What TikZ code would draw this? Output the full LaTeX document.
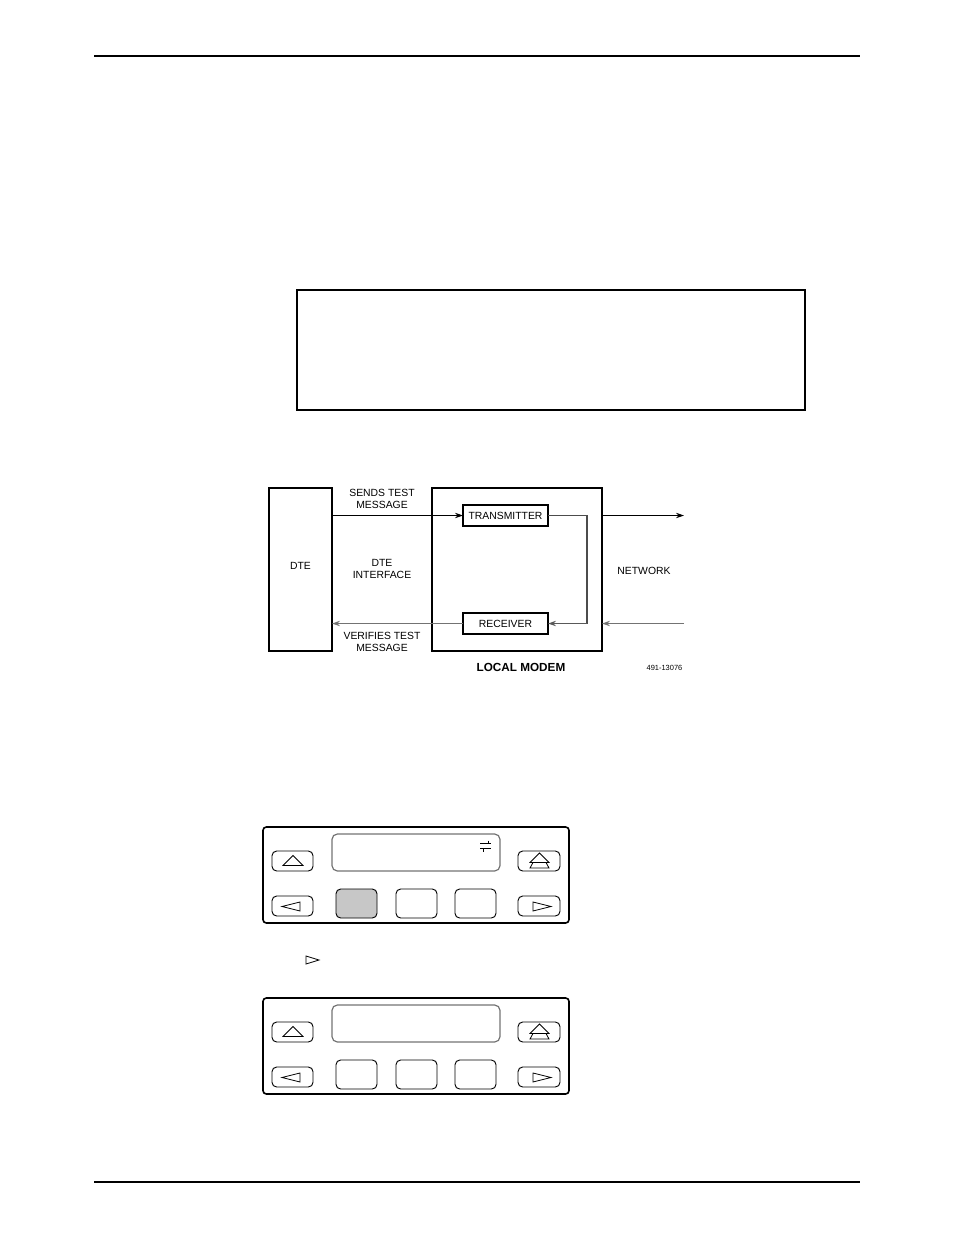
\documentclass[tikz,border=0pt]{standalone}
\usepackage{fontspec}
\setmainfont{Liberation Sans}
\usetikzlibrary{arrows.meta}
\begin{document}
\begin{tikzpicture}[x=0.75pt,y=-0.75pt,
  lbl/.style={font=\fontsize{7.8}{9}\selectfont, align=center, inner sep=0pt},
  arr/.style={-{Stealth[length=6pt,width=4pt,inset=2pt]}, line width=0.7pt},
  boxthin/.style={draw, line width=0.85pt, inner sep=0pt, outer sep=0pt, font=\fontsize{7.8}{9}\selectfont},
  rule/.style={line width=1.1pt},
  panelbox/.style={draw, line width=1.2pt, rounded corners=2.5pt},
  keybox/.style={draw, line width=0.7pt, rounded corners=3.5pt},
  dispbox/.style={draw=black!55, line width=0.9pt, rounded corners=4pt},
  glyph/.style={line width=0.6pt, line join=miter}
]
\useasboundingbox (0,0) rectangle (954,1235);

% page rules
\draw[rule] (94,56) -- (860,56);
\draw[rule] (94,1182) -- (860,1182);

% empty box
\draw[line width=0.9pt] (297,290) rectangle (805,410);

% ---------- block diagram ----------
\node[draw, line width=1.5pt, inner sep=0pt, outer sep=0pt,
      minimum width=47.25pt, minimum height=122.25pt] (dte) at (300.5,569.5) {};
\node[lbl] (dtel) at (300.5,566) {DTE};
\node[draw, line width=2.2pt, inner sep=0pt, outer sep=0pt,
      minimum width=127.5pt, minimum height=122.25pt] (modem) at (517,569.5) {};
\node[boxthin, minimum width=63.75pt, minimum height=15.75pt] (tx) at (505.5,515.5) {TRANSMITTER};
\node[boxthin, minimum width=63.75pt, minimum height=15.75pt] (rx) at (505.5,623.5) {RECEIVER};

\coordinate (loopa) at (587,515.5);
\coordinate (loopb) at (587,623.5);
\coordinate (netout) at (684,515.5);
\coordinate (netin) at (684,623.5);

\draw[arr] (dte.east |- tx.west) -- (tx.west);
\draw[line width=0.8pt, black!70] (tx.east) -- (loopa) -- (loopb);
\draw[arr, line width=0.9pt, black!65] (loopb) -- (rx.east);
\draw[arr, line width=0.9pt, black!55] (rx.west) -- (dte.east |- rx.west);
\draw[arr] (modem.east |- tx.east) -- (netout);
\draw[arr, line width=0.9pt, black!55] (netin) -- (modem.east |- netin);

\node[lbl] (sends) at (382,499) {SENDS TEST\\MESSAGE};
\node[lbl] (dtei) at (382,569) {DTE\\INTERFACE};
\node[lbl] (verif) at (382,642) {VERIFIES TEST\\MESSAGE};
\node[lbl] (net) at (644,571) {NETWORK};
\node[lbl, font=\fontsize{8.8}{10}\selectfont\bfseries] (lm) at (521,667) {LOCAL MODEM};
\node[lbl, font=\fontsize{5.6}{6}\selectfont] (fig) at (664.5,668) {491-13076};

% small right triangle in text line
\draw[glyph] (306,956) -- (319,960) -- (306,964) -- cycle;

% ---------- front panels ----------
\foreach \dy/\fc in {0/black!22, 171/white} {
  \begin{scope}[shift={(0,\dy)}]
    \draw[panelbox] (263,827) rectangle (569,923);
    \draw[dispbox] (332,834) rectangle (500,871);
    % upper keys
    \draw[keybox] (272,851) rectangle (313,871);
    \draw[keybox] (518,851) rectangle (560,871);
    % lower keys
    \draw[keybox] (272,896) rectangle (313,916);
    \draw[keybox] (518,896) rectangle (560,916);
    \draw[keybox, fill=\fc] (336,889) rectangle (377,918);
    \draw[keybox] (396,889) rectangle (437,918);
    \draw[keybox] (455,889) rectangle (496,918);
    % glyphs
    \draw[glyph] (283,865.5) -- (293,855.5) -- (303,865.5) -- cycle;
    \draw[glyph] (530,862.5) -- (539.5,853) -- (549,862.5) -- cycle;
    \draw[glyph] (533,862.5) -- (530,868) -- (549,868) -- (546,862.5);
    \draw[glyph] (282,906.5) -- (300,902) -- (300,911) -- cycle;
    \draw[glyph] (533,902) -- (551,906.5) -- (533,911) -- cycle;
  \end{scope}
}
% two-way symbol on first display
\draw[line width=0.6pt] (480,843.5) -- (491,843.5) (488,840.5) -- (488,843.5);
\draw[line width=0.6pt] (480,848.5) -- (491,848.5) (483,848.5) -- (483,851.5);

\end{tikzpicture}
\end{document}
